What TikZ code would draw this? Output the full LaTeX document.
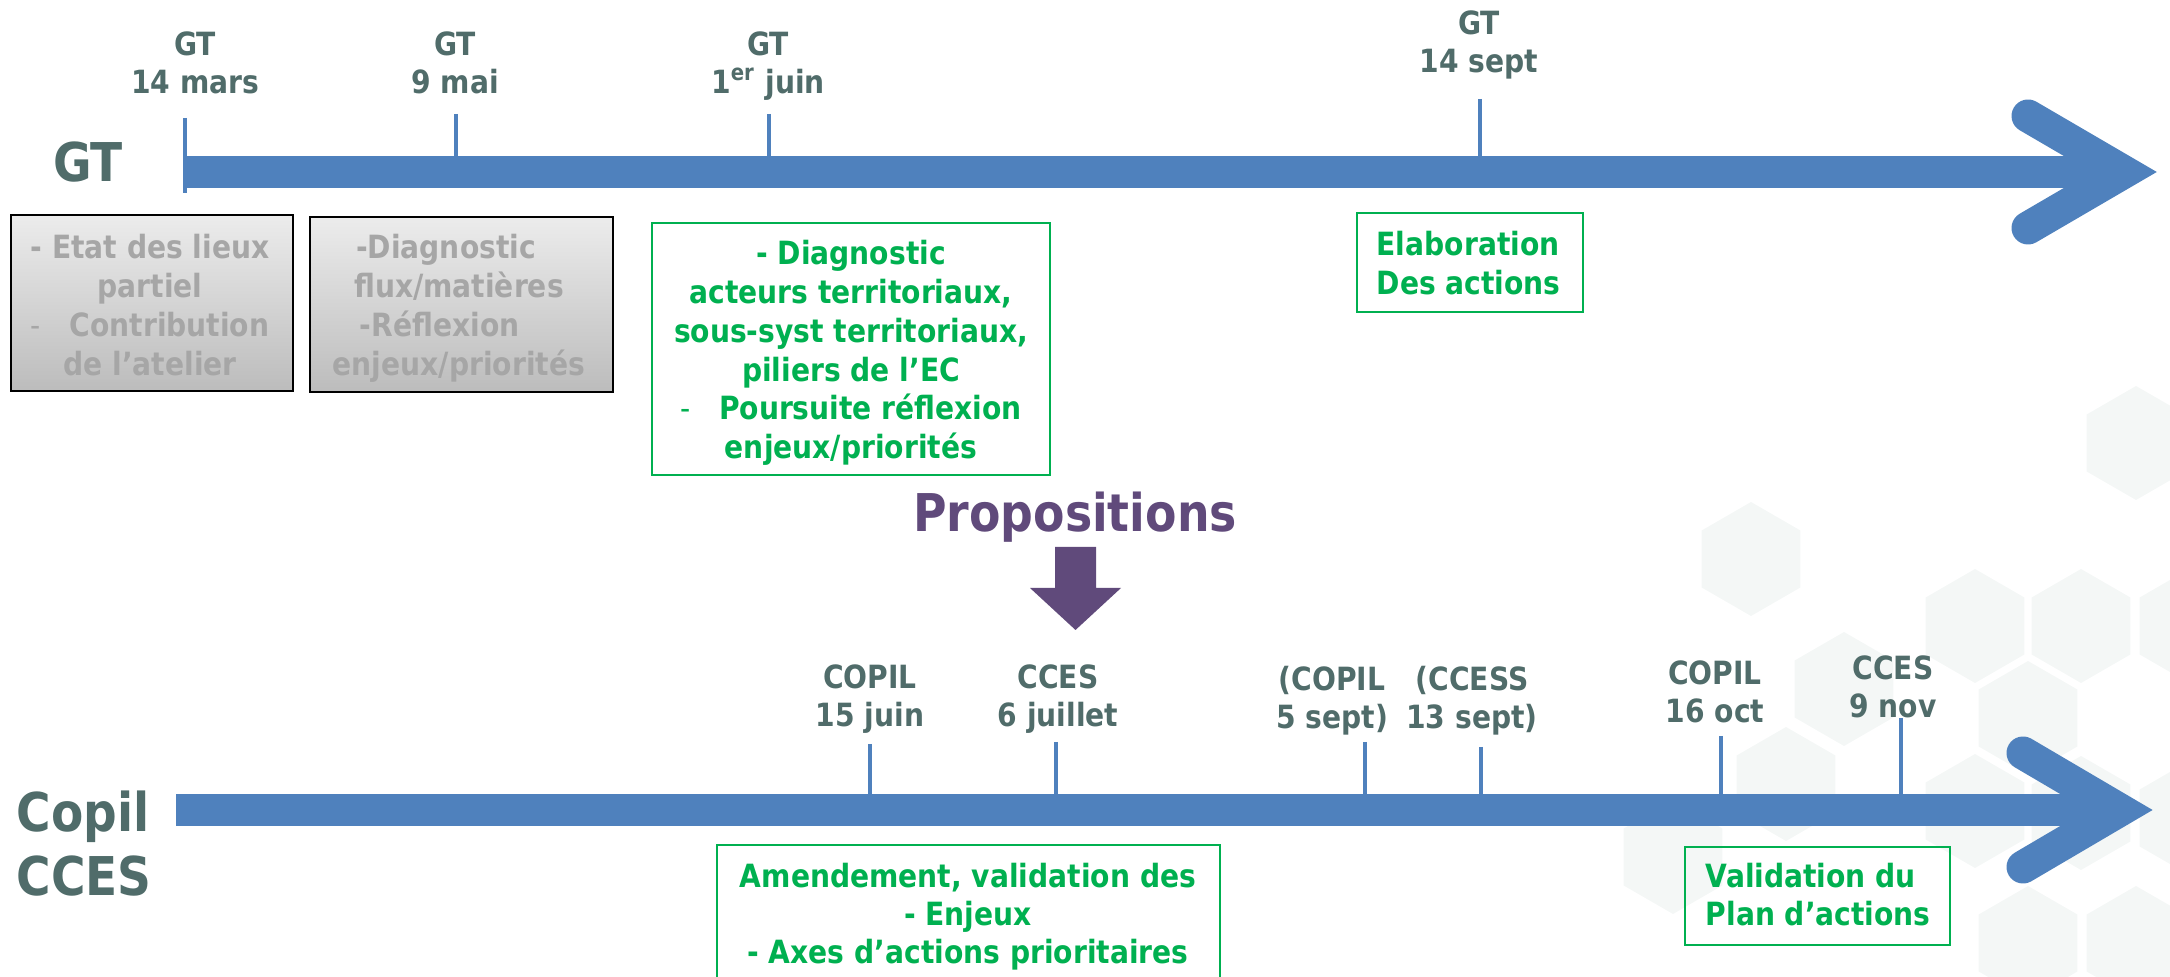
\documentclass[tikz,border=0pt]{standalone}
\usepackage{fontspec}
\setmainfont{DejaVu Sans}[FakeStretch=0.88]
\usetikzlibrary{fit,calc}
\definecolor{axisblue}{RGB}{79,129,189}
\definecolor{labcol}{RGB}{80,108,106}
\definecolor{grn}{RGB}{0,176,80}
\definecolor{purp}{RGB}{96,74,123}
\definecolor{graytxt}{RGB}{166,166,166}
\definecolor{hexcol}{RGB}{244,247,246}
\definecolor{gtop}{RGB}{236,236,236}
\definecolor{gbot}{RGB}{188,188,188}
\newcommand\ml[1]{\begin{tabular}[t]{@{}c@{}}#1\end{tabular}}
\newcommand\mll[1]{\begin{tabular}[t]{@{}l@{}}#1\end{tabular}}
\newcommand\nf{\fontsize{9.1}{10.8}\selectfont\bfseries}
\newcommand\boxf{\fontsize{9.1}{11}\selectfont\bfseries}
\newcommand\bigf{\fontsize{15.2}{17.93}\selectfont\bfseries}
\newcommand\propf{\fontsize{14.8}{17}\selectfont\bfseries}
\newcommand\bul{{\mdseries -}\hspace{0.9em}}
\begin{document}
\begin{tikzpicture}[x=0.01cm,y=-0.01cm,
  txt/.style={anchor=base,inner sep=0pt,font=\nf},
  btxt/.style={anchor=base,inner sep=0pt,font=\boxf},
  lbl/.style={txt,text=labcol},
  gtxt/.style={txt,text=grn},
  gbtxt/.style={btxt,text=grn},
  graytext/.style={btxt,text=graytxt},
  graybox/.style={draw=black,line width=0.025cm,top color=gtop,bottom color=gbot,inner sep=0pt},
  grnbox/.style={draw=grn,line width=0.02cm,inner sep=0pt},
  shaft/.style={draw=axisblue,line width=0.32cm,line cap=butt},
  chev/.style={draw=axisblue,line width=0.33cm,line cap=round,line join=miter},
  tick/.style={draw=axisblue,line width=0.04cm},
  hex/.style={fill=hexcol}
]
\useasboundingbox (0,0) rectangle (2170,977);
\begin{scope}
\clip (0,0) rectangle (2170,977);
% background hexagons
\foreach \cx/\cy in {2136/443,1751/559,1975/626,2081/626,2189/626,1844/689,2028/718,1786/784,1975/811,2081/813,2189/818,1673/857,2028/943,2136/943}{
  \fill[hex] (\cx,\cy) +(90:57) -- +(150:57) -- +(210:57) -- +(270:57) -- +(330:57) -- +(30:57) -- cycle;
}
% bottom-left box extends past the lower edge
\node[grnbox,fit={(717,845) (1220,1000)}] (cbox1) {};
\end{scope}

% ---- GT timeline ----
\coordinate (gtStart) at (183,172);
\coordinate (gtTip) at (2124,172);
\draw[tick] (185,118) -- (185,193);
\draw[tick] (456,114) -- (456,172);
\draw[tick] (769,114) -- (769,172);
\draw[tick] (1480,99) -- (1480,172);
\draw[shaft] (gtStart) -- (gtTip);
\draw[chev] ($(gtTip)+(-96,-56)$) -- (gtTip) -- ($(gtTip)+(-96,56)$);

\node[anchor=base,inner sep=0pt,font=\bigf,text=labcol] (gtmain) at (88,182) {GT};
\node[lbl] (l14mars) at (195,56) {\ml{GT\\14 mars}};
\node[lbl] (l9mai) at (455,56) {\ml{GT\\9 mai}};
\node[lbl] (l1juin) at (768,56) {\ml{GT\\1\textsuperscript{er} juin}};
\node[lbl] (l14sept) at (1479,35) {\ml{GT\\14 sept}};

\node[graybox,fit={(11,215) (293,391)}] (gbox1) {};
\node[graybox,fit={(310,217) (613,392)}] (gbox2) {};
\node[graytext] (gbox1t) at (150,259) {\ml{- Etat des lieux\\partiel\\\bul Contribution\\de l’atelier}};
\node[graytext] (gbox2t) at (459,259) {\ml{-Diagnostic\kern7.4pt\\flux/matières\\-Réflexion\kern11pt\\enjeux/priorités}};

\node[grnbox,fit={(652,223) (1050,475)}] (ebox1) {};
\node[gbtxt] (ebox1t) at (851,265) {\ml{- Diagnostic\\acteurs territoriaux,\\sous-syst territoriaux,\\piliers de l’EC\\\bul Poursuite réflexion\\enjeux/priorités}};
\node[grnbox,fit={(1357,213) (1583,312)}] (ebox2) {};
\node[gbtxt,anchor=base west] (ebox2t) at (1376,256) {\mll{Elaboration\\Des actions}};

% ---- Propositions ----
\node[anchor=base,inner sep=0pt,font=\propf,text=purp] (prop) at (1075,532) {Propositions};
\fill[purp] (1055,547) -- (1096,547) -- (1096,588) -- (1121,588) -- (1075.5,630) -- (1030,588) -- (1055,588) -- cycle;

% ---- Copil / CCES timeline ----
\coordinate (cpStart) at (176,810);
\coordinate (cpTip) at (2120,810);
\draw[tick] (870,744) -- (870,810);
\draw[tick] (1056,742) -- (1056,810);
\draw[tick] (1365,742) -- (1365,810);
\draw[tick] (1481,747) -- (1481,810);
\draw[tick] (1721,736) -- (1721,810);
\draw[tick] (1901,718) -- (1901,810);
\draw[shaft] (cpStart) -- (cpTip);
\draw[chev] ($(cpTip)+(-97,-57)$) -- (cpTip) -- ($(cpTip)+(-97,57)$);

\node[anchor=base west,inner sep=0pt,font=\bigf,text=labcol] (copil) at (16,832) {\mll{Copil\\CCES}};
\node[lbl] (lc15) at (870,689) {\ml{COPIL\\15 juin}};
\node[lbl] (lc6) at (1058,689) {\ml{CCES\\6 juillet}};
\node[lbl] (lc5) at (1332,691) {\ml{(COPIL\\5 sept)}};
\node[lbl] (lc13) at (1472,691) {\ml{(CCESS\\13 sept)}};
\node[lbl] (lc16) at (1715,685) {\ml{COPIL\\16 oct}};
\node[lbl] (lc9) at (1893,680) {\ml{CCES\\9 nov}};

\node[gtxt] (cbox1t) at (968,888) {\ml{Amendement, validation des\\- Enjeux\\- Axes d’actions prioritaires}};
\node[grnbox,fit={(1685,847) (1950,945)}] (cbox2) {};
\node[gtxt,anchor=base west] (cbox2t) at (1705,888) {\mll{Validation du\\Plan d’actions}};
\end{tikzpicture}
\end{document}
